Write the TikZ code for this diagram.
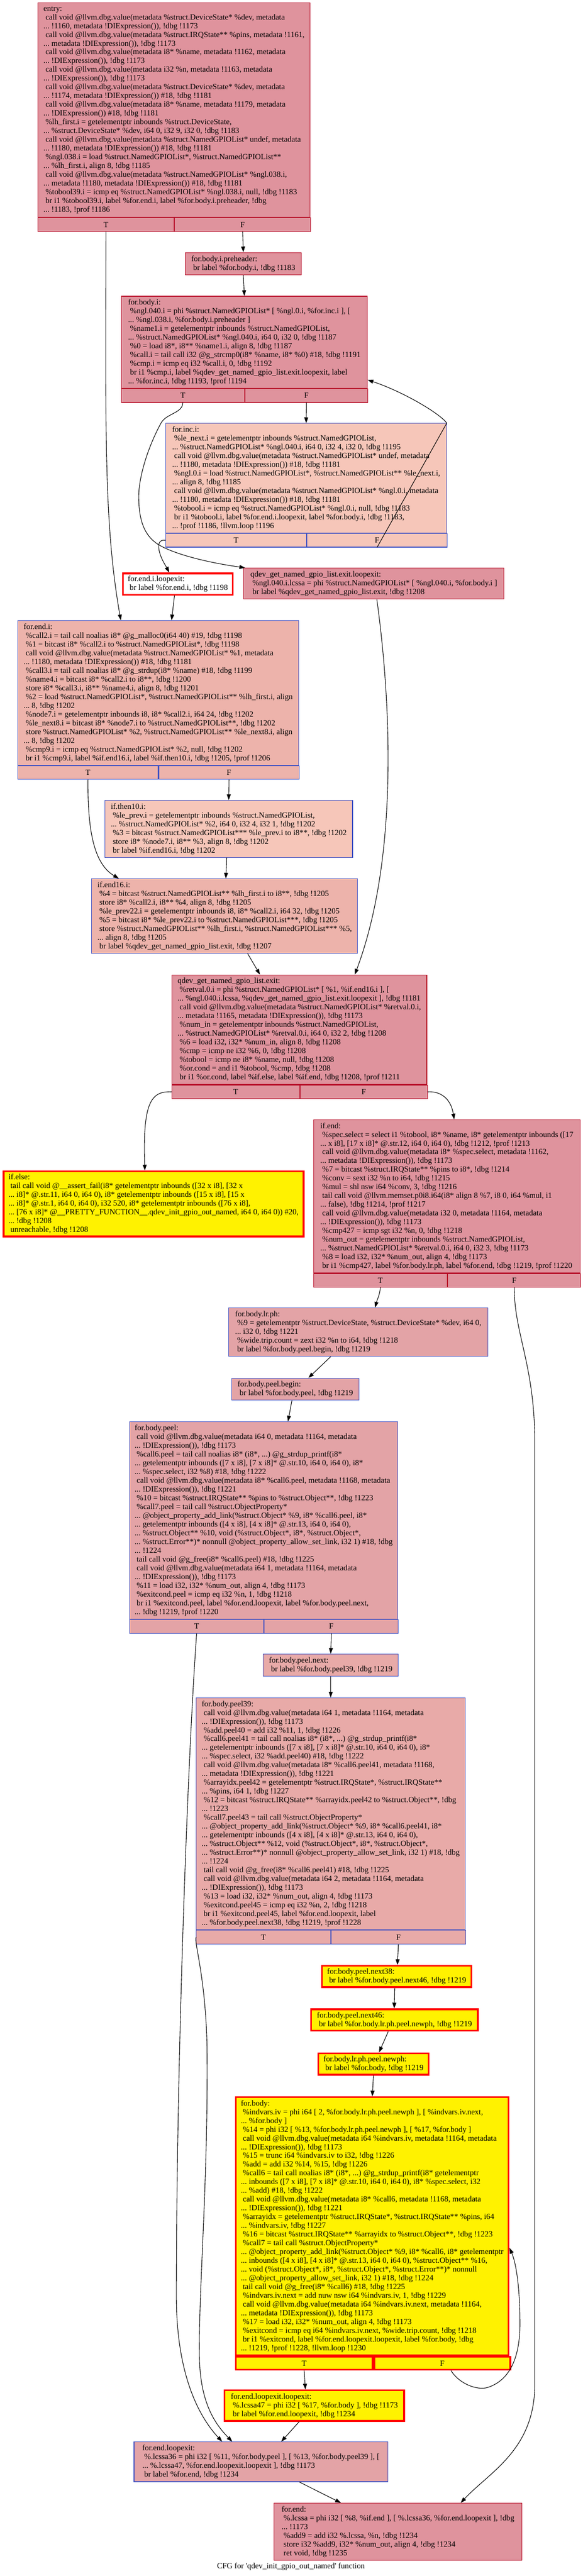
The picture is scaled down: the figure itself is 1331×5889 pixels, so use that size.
\documentclass[tikz,border=0pt]{standalone}
\usepackage{fontspec}
\setmainfont{Liberation Serif}
\usetikzlibrary{arrows.meta}
\definecolor{hotline}{RGB}{183,13,40}
\definecolor{coldline}{RGB}{61,80,195}
\definecolor{hotfill}{RGB}{223,147,157}
\definecolor{warmfill}{RGB}{246,198,185}
\definecolor{salmonfill}{RGB}{237,179,171}
\definecolor{rosefill}{RGB}{227,163,166}
\definecolor{peachfill}{RGB}{232,170,168}
\newcommand{\tfont}{\fontsize{18.2}{20}\selectfont\frenchspacing}
\newcommand{\ind}{\hspace*{0.25em}}

\begin{document}
\begin{tikzpicture}[x=1pt, y=-1pt, line width=1.3pt, >={Triangle[length=13pt,width=9pt]},
        blk/.style={draw, anchor=north west, align=left, inner sep=2pt, font=\tfont},
        hot/.style={blk, draw=hotline, fill=hotfill},
        cold/.style={blk, draw=coldline},
        hilite/.style={blk, draw=red, line width=4pt, fill=yellow},
        cell/.style={align=center, minimum height=31pt}]
        \useasboundingbox (0,0) rectangle (1331,5889);

        \node[hot, minimum width=622pt, minimum height=490pt] (entry) at (86,6) {entry:\\
\ind call void @llvm.dbg.value(metadata \%struct.DeviceState* \%dev, metadata\\
... !1160, metadata !DIExpression()), !dbg !1173\\
\ind call void @llvm.dbg.value(metadata \%struct.IRQState** \%pins, metadata !1161,\\
... metadata !DIExpression()), !dbg !1173\\
\ind call void @llvm.dbg.value(metadata i8* \%name, metadata !1162, metadata\\
... !DIExpression()), !dbg !1173\\
\ind call void @llvm.dbg.value(metadata i32 \%n, metadata !1163, metadata\\
... !DIExpression()), !dbg !1173\\
\ind call void @llvm.dbg.value(metadata \%struct.DeviceState* \%dev, metadata\\
... !1174, metadata !DIExpression()) \#18, !dbg !1181\\
\ind call void @llvm.dbg.value(metadata i8* \%name, metadata !1179, metadata\\
... !DIExpression()) \#18, !dbg !1181\\
\ind \%lh\_first.i = getelementptr inbounds \%struct.DeviceState,\\
... \%struct.DeviceState* \%dev, i64 0, i32 9, i32 0, !dbg !1183\\
\ind call void @llvm.dbg.value(metadata \%struct.NamedGPIOList* undef, metadata\\
... !1180, metadata !DIExpression()) \#18, !dbg !1181\\
\ind \%ngl.038.i = load \%struct.NamedGPIOList*, \%struct.NamedGPIOList**\\
... \%lh\_first.i, align 8, !dbg !1185\\
\ind call void @llvm.dbg.value(metadata \%struct.NamedGPIOList* \%ngl.038.i,\\
... metadata !1180, metadata !DIExpression()) \#18, !dbg !1181\\
\ind \%tobool39.i = icmp eq \%struct.NamedGPIOList* \%ngl.038.i, null, !dbg !1183\\
\ind br i1 \%tobool39.i, label \%for.end.i, label \%for.body.i.preheader, !dbg\\
... !1183, !prof !1186};
        \node[hot, cell, minimum width=311pt] (entryT) at (entry.south west) {T};
        \node[hot, cell, minimum width=311pt] (entryF) at (entryT.north east) {F};

        \node[hot, minimum width=265pt, minimum height=51pt] (preheader) at (422.7,576.6) {for.body.i.preheader:\\
\ind br label \%for.body.i, !dbg !1183};

        \node[hot, minimum width=562pt, minimum height=210.3pt] (forbodyi) at (276.7,676.6) {for.body.i:\\
\ind \%ngl.040.i = phi \%struct.NamedGPIOList* [ \%ngl.0.i, \%for.inc.i ], [\\
... \%ngl.038.i, \%for.body.i.preheader ]\\
\ind \%name1.i = getelementptr inbounds \%struct.NamedGPIOList,\\
... \%struct.NamedGPIOList* \%ngl.040.i, i64 0, i32 0, !dbg !1187\\
\ind \%0 = load i8*, i8** \%name1.i, align 8, !dbg !1187\\
\ind \%call.i = tail call i32 @g\_strcmp0(i8* \%name, i8* \%0) \#18, !dbg !1191\\
\ind \%cmp.i = icmp eq i32 \%call.i, 0, !dbg !1192\\
\ind br i1 \%cmp.i, label \%qdev\_get\_named\_gpio\_list.exit.loopexit, label\\
... \%for.inc.i, !dbg !1193, !prof !1194};
        \node[hot, cell, minimum width=281pt] (forbodyiT) at (forbodyi.south west) {T};
        \node[hot, cell, minimum width=281pt] (forbodyiF) at (forbodyiT.north east) {F};

        \node[cold, fill=warmfill, minimum width=641.2pt, minimum height=250.6pt] (forinci) at (378.3,967.3) {for.inc.i:\\
\ind \%le\_next.i = getelementptr inbounds \%struct.NamedGPIOList,\\
... \%struct.NamedGPIOList* \%ngl.040.i, i64 0, i32 4, i32 0, !dbg !1195\\
\ind call void @llvm.dbg.value(metadata \%struct.NamedGPIOList* undef, metadata\\
... !1180, metadata !DIExpression()) \#18, !dbg !1181\\
\ind \%ngl.0.i = load \%struct.NamedGPIOList*, \%struct.NamedGPIOList** \%le\_next.i,\\
... align 8, !dbg !1185\\
\ind call void @llvm.dbg.value(metadata \%struct.NamedGPIOList* \%ngl.0.i, metadata\\
... !1180, metadata !DIExpression()) \#18, !dbg !1181\\
\ind \%tobool.i = icmp eq \%struct.NamedGPIOList* \%ngl.0.i, null, !dbg !1183\\
\ind br i1 \%tobool.i, label \%for.end.i.loopexit, label \%for.body.i, !dbg !1183,\\
... !prof !1186, !llvm.loop !1196};
        \node[cold, fill=warmfill, cell, minimum width=321.2pt] (forinciT) at (forinci.south west) {T};
        \node[cold, fill=warmfill, cell, minimum width=320pt] (forinciF) at (forinciT.north east) {F};

        \node[hilite, fill=white, minimum width=251.3pt, minimum height=48.7pt] (forendiloopexit) at (278.7,1308.8) {for.end.i.loopexit:\\
\ind br label \%for.end.i, !dbg !1198};

        \node[hot, minimum width=595pt, minimum height=70.9pt] (qdevloopexit) at (556,1297.9) {qdev\_get\_named\_gpio\_list.exit.loopexit:\\
\ind \%ngl.040.i.lcssa = phi \%struct.NamedGPIOList* [ \%ngl.040.i, \%for.body.i ]\\
\ind br label \%qdev\_get\_named\_gpio\_list.exit, !dbg !1208};

        \node[cold, fill=salmonfill, minimum width=641.7pt, minimum height=330.7pt] (forendi) at (40,1418) {for.end.i:\\
\ind \%call2.i = tail call noalias i8* @g\_malloc0(i64 40) \#19, !dbg !1198\\
\ind \%1 = bitcast i8* \%call2.i to \%struct.NamedGPIOList*, !dbg !1198\\
\ind call void @llvm.dbg.value(metadata \%struct.NamedGPIOList* \%1, metadata\\
... !1180, metadata !DIExpression()) \#18, !dbg !1181\\
\ind \%call3.i = tail call noalias i8* @g\_strdup(i8* \%name) \#18, !dbg !1199\\
\ind \%name4.i = bitcast i8* \%call2.i to i8**, !dbg !1200\\
\ind store i8* \%call3.i, i8** \%name4.i, align 8, !dbg !1201\\
\ind \%2 = load \%struct.NamedGPIOList*, \%struct.NamedGPIOList** \%lh\_first.i, align\\
... 8, !dbg !1202\\
\ind \%node7.i = getelementptr inbounds i8, i8* \%call2.i, i64 24, !dbg !1202\\
\ind \%le\_next8.i = bitcast i8* \%node7.i to \%struct.NamedGPIOList**, !dbg !1202\\
\ind store \%struct.NamedGPIOList* \%2, \%struct.NamedGPIOList** \%le\_next8.i, align\\
... 8, !dbg !1202\\
\ind \%cmp9.i = icmp eq \%struct.NamedGPIOList* \%2, null, !dbg !1202\\
\ind br i1 \%cmp9.i, label \%if.end16.i, label \%if.then10.i, !dbg !1205, !prof !1206};
        \node[cold, fill=salmonfill, cell, minimum width=320.8pt] (forendiT) at (forendi.south west) {T};
        \node[cold, fill=salmonfill, cell, minimum width=320.9pt] (forendiF) at (forendiT.north east) {F};

        \node[cold, fill=warmfill, minimum width=566pt, minimum height=130.3pt] (ifthen10i) at (239,1829) {if.then10.i:\\
\ind \%le\_prev.i = getelementptr inbounds \%struct.NamedGPIOList,\\
... \%struct.NamedGPIOList* \%2, i64 0, i32 4, i32 1, !dbg !1202\\
\ind \%3 = bitcast \%struct.NamedGPIOList*** \%le\_prev.i to i8**, !dbg !1202\\
\ind store i8* \%node7.i, i8** \%3, align 8, !dbg !1202\\
\ind br label \%if.end16.i, !dbg !1202};

        \node[cold, fill=salmonfill, minimum width=607.8pt, minimum height=170.5pt] (ifend16i) at (208.8,2008.4) {if.end16.i:\\
\ind \%4 = bitcast \%struct.NamedGPIOList** \%lh\_first.i to i8**, !dbg !1205\\
\ind store i8* \%call2.i, i8** \%4, align 8, !dbg !1205\\
\ind \%le\_prev22.i = getelementptr inbounds i8, i8* \%call2.i, i64 32, !dbg !1205\\
\ind \%5 = bitcast i8* \%le\_prev22.i to \%struct.NamedGPIOList***, !dbg !1205\\
\ind store \%struct.NamedGPIOList** \%lh\_first.i, \%struct.NamedGPIOList*** \%5,\\
... align 8, !dbg !1205\\
\ind br label \%qdev\_get\_named\_gpio\_list.exit, !dbg !1207};

        \node[hot, minimum width=582.5pt, minimum height=250.6pt] (qdevexit) at (392,2228) {qdev\_get\_named\_gpio\_list.exit:\\
\ind \%retval.0.i = phi \%struct.NamedGPIOList* [ \%1, \%if.end16.i ], [\\
... \%ngl.040.i.lcssa, \%qdev\_get\_named\_gpio\_list.exit.loopexit ], !dbg !1181\\
\ind call void @llvm.dbg.value(metadata \%struct.NamedGPIOList* \%retval.0.i,\\
... metadata !1165, metadata !DIExpression()), !dbg !1173\\
\ind \%num\_in = getelementptr inbounds \%struct.NamedGPIOList,\\
... \%struct.NamedGPIOList* \%retval.0.i, i64 0, i32 2, !dbg !1208\\
\ind \%6 = load i32, i32* \%num\_in, align 8, !dbg !1208\\
\ind \%cmp = icmp ne i32 \%6, 0, !dbg !1208\\
\ind \%tobool = icmp ne i8* \%name, null, !dbg !1208\\
\ind \%or.cond = and i1 \%tobool, \%cmp, !dbg !1208\\
\ind br i1 \%or.cond, label \%if.else, label \%if.end, !dbg !1208, !prof !1211};
        \node[hot, cell, minimum width=292pt] (qdevexitT) at (qdevexit.south west) {T};
        \node[hot, cell, minimum width=290.5pt] (qdevexitF) at (qdevexitT.north east) {F};

        \node[hilite, minimum width=685.3pt, minimum height=149.1pt] (ifelse) at (6.2,2675.7) {if.else:\\
\ind tail call void @\_\_assert\_fail(i8* getelementptr inbounds ([32 x i8], [32 x\\
... i8]* @.str.11, i64 0, i64 0), i8* getelementptr inbounds ([15 x i8], [15 x\\
... i8]* @.str.1, i64 0, i64 0), i32 520, i8* getelementptr inbounds ([76 x i8],\\
... [76 x i8]* @\_\_PRETTY\_FUNCTION\_\_.qdev\_init\_gpio\_out\_named, i64 0, i64 0)) \#20,\\
... !dbg !1208\\
\ind unreachable, !dbg !1208};

        \node[hot, minimum width=609.4pt, minimum height=350.6pt] (ifend) at (715.6,2559) {if.end:\\
\ind \%spec.select = select i1 \%tobool, i8* \%name, i8* getelementptr inbounds ([17\\
... x i8], [17 x i8]* @.str.12, i64 0, i64 0), !dbg !1212, !prof !1213\\
\ind call void @llvm.dbg.value(metadata i8* \%spec.select, metadata !1162,\\
... metadata !DIExpression()), !dbg !1173\\
\ind \%7 = bitcast \%struct.IRQState** \%pins to i8*, !dbg !1214\\
\ind \%conv = sext i32 \%n to i64, !dbg !1215\\
\ind \%mul = shl nsw i64 \%conv, 3, !dbg !1216\\
\ind tail call void @llvm.memset.p0i8.i64(i8* align 8 \%7, i8 0, i64 \%mul, i1\\
... false), !dbg !1214, !prof !1217\\
\ind call void @llvm.dbg.value(metadata i32 0, metadata !1164, metadata\\
... !DIExpression()), !dbg !1173\\
\ind \%cmp427 = icmp sgt i32 \%n, 0, !dbg !1218\\
\ind \%num\_out = getelementptr inbounds \%struct.NamedGPIOList,\\
... \%struct.NamedGPIOList* \%retval.0.i, i64 0, i32 3, !dbg !1173\\
\ind \%8 = load i32, i32* \%num\_out, align 4, !dbg !1173\\
\ind br i1 \%cmp427, label \%for.body.lr.ph, label \%for.end, !dbg !1219, !prof !1220};
        \node[hot, cell, minimum width=305.4pt] (ifendT) at (ifend.south west) {T};
        \node[hot, cell, minimum width=304pt] (ifendF) at (ifendT.north east) {F};

        \node[cold, fill=rosefill, minimum width=591.8pt, minimum height=111pt] (forbodylrph) at (522,2989.3) {for.body.lr.ph:\\
\ind \%9 = getelementptr \%struct.DeviceState, \%struct.DeviceState* \%dev, i64 0,\\
... i32 0, !dbg !1221\\
\ind \%wide.trip.count = zext i32 \%n to i64, !dbg !1218\\
\ind br label \%for.body.peel.begin, !dbg !1219};

        \node[cold, fill=rosefill, minimum width=290.3pt, minimum height=50.4pt] (peelbegin) at (528.9,3150) {for.body.peel.begin:\\
\ind br label \%for.body.peel, !dbg !1219};

        \node[cold, fill=rosefill, minimum width=612.9pt, minimum height=451.2pt] (peel) at (295.4,3249.5) {for.body.peel:\\
\ind call void @llvm.dbg.value(metadata i64 0, metadata !1164, metadata\\
... !DIExpression()), !dbg !1173\\
\ind \%call6.peel = tail call noalias i8* (i8*, ...) @g\_strdup\_printf(i8*\\
... getelementptr inbounds ([7 x i8], [7 x i8]* @.str.10, i64 0, i64 0), i8*\\
... \%spec.select, i32 \%8) \#18, !dbg !1222\\
\ind call void @llvm.dbg.value(metadata i8* \%call6.peel, metadata !1168, metadata\\
... !DIExpression()), !dbg !1221\\
\ind \%10 = bitcast \%struct.IRQState** \%pins to \%struct.Object**, !dbg !1223\\
\ind \%call7.peel = tail call \%struct.ObjectProperty*\\
... @object\_property\_add\_link(\%struct.Object* \%9, i8* \%call6.peel, i8*\\
... getelementptr inbounds ([4 x i8], [4 x i8]* @.str.13, i64 0, i64 0),\\
... \%struct.Object** \%10, void (\%struct.Object*, i8*, \%struct.Object*,\\
... \%struct.Error**)* nonnull @object\_property\_allow\_set\_link, i32 1) \#18, !dbg\\
... !1224\\
\ind tail call void @g\_free(i8* \%call6.peel) \#18, !dbg !1225\\
\ind call void @llvm.dbg.value(metadata i64 1, metadata !1164, metadata\\
... !DIExpression()), !dbg !1173\\
\ind \%11 = load i32, i32* \%num\_out, align 4, !dbg !1173\\
\ind \%exitcond.peel = icmp eq i32 \%n, 1, !dbg !1218\\
\ind br i1 \%exitcond.peel, label \%for.end.loopexit, label \%for.body.peel.next,\\
... !dbg !1219, !prof !1220};
        \node[cold, fill=rosefill, cell, minimum width=306.5pt] (peelT) at (peel.south west) {T};
        \node[cold, fill=rosefill, cell, minimum width=306.4pt] (peelF) at (peelT.north east) {F};

        \node[cold, fill=peachfill, minimum width=308pt, minimum height=50.4pt] (peelnext) at (601,3780.6) {for.body.peel.next:\\
\ind br label \%for.body.peel39, !dbg !1219};

        \node[cold, fill=peachfill, minimum width=614pt, minimum height=530.4pt] (peel39) at (448,3880.6) {for.body.peel39:\\
\ind call void @llvm.dbg.value(metadata i64 1, metadata !1164, metadata\\
... !DIExpression()), !dbg !1173\\
\ind \%add.peel40 = add i32 \%11, 1, !dbg !1226\\
\ind \%call6.peel41 = tail call noalias i8* (i8*, ...) @g\_strdup\_printf(i8*\\
... getelementptr inbounds ([7 x i8], [7 x i8]* @.str.10, i64 0, i64 0), i8*\\
... \%spec.select, i32 \%add.peel40) \#18, !dbg !1222\\
\ind call void @llvm.dbg.value(metadata i8* \%call6.peel41, metadata !1168,\\
... metadata !DIExpression()), !dbg !1221\\
\ind \%arrayidx.peel42 = getelementptr \%struct.IRQState*, \%struct.IRQState**\\
... \%pins, i64 1, !dbg !1227\\
\ind \%12 = bitcast \%struct.IRQState** \%arrayidx.peel42 to \%struct.Object**, !dbg\\
... !1223\\
\ind \%call7.peel43 = tail call \%struct.ObjectProperty*\\
... @object\_property\_add\_link(\%struct.Object* \%9, i8* \%call6.peel41, i8*\\
... getelementptr inbounds ([4 x i8], [4 x i8]* @.str.13, i64 0, i64 0),\\
... \%struct.Object** \%12, void (\%struct.Object*, i8*, \%struct.Object*,\\
... \%struct.Error**)* nonnull @object\_property\_allow\_set\_link, i32 1) \#18, !dbg\\
... !1224\\
\ind tail call void @g\_free(i8* \%call6.peel41) \#18, !dbg !1225\\
\ind call void @llvm.dbg.value(metadata i64 2, metadata !1164, metadata\\
... !DIExpression()), !dbg !1173\\
\ind \%13 = load i32, i32* \%num\_out, align 4, !dbg !1173\\
\ind \%exitcond.peel45 = icmp eq i32 \%n, 2, !dbg !1218\\
\ind br i1 \%exitcond.peel45, label \%for.end.loopexit, label\\
... \%for.body.peel.next38, !dbg !1219, !prof !1228};
        \node[cold, fill=peachfill, cell, minimum width=306.7pt] (peel39T) at (peel39.south west) {T};
        \node[cold, fill=peachfill, cell, minimum width=307.3pt] (peel39F) at (peel39T.north east) {F};

        \node[hilite, minimum width=341.3pt, minimum height=48.8pt] (peelnext38) at (733.7,4492) {for.body.peel.next38:\\
\ind br label \%for.body.peel.next46, !dbg !1219};

        \node[hilite, minimum width=380.7pt, minimum height=49.1pt] (peelnext46) at (709,4591.4) {for.body.peel.next46:\\
\ind br label \%for.body.lr.ph.peel.newph, !dbg !1219};

        \node[hilite, minimum width=252.6pt, minimum height=48.8pt] (newph) at (725,4692) {for.body.lr.ph.peel.newph:\\
\ind br label \%for.body, !dbg !1219};

        \node[hilite, minimum width=623.2pt, minimum height=589.5pt] (forbody) at (536.8,4792.5) {for.body:\\
\ind \%indvars.iv = phi i64 [ 2, \%for.body.lr.ph.peel.newph ], [ \%indvars.iv.next,\\
... \%for.body ]\\
\ind \%14 = phi i32 [ \%13, \%for.body.lr.ph.peel.newph ], [ \%17, \%for.body ]\\
\ind call void @llvm.dbg.value(metadata i64 \%indvars.iv, metadata !1164, metadata\\
... !DIExpression()), !dbg !1173\\
\ind \%15 = trunc i64 \%indvars.iv to i32, !dbg !1226\\
\ind \%add = add i32 \%14, \%15, !dbg !1226\\
\ind \%call6 = tail call noalias i8* (i8*, ...) @g\_strdup\_printf(i8* getelementptr\\
... inbounds ([7 x i8], [7 x i8]* @.str.10, i64 0, i64 0), i8* \%spec.select, i32\\
... \%add) \#18, !dbg !1222\\
\ind call void @llvm.dbg.value(metadata i8* \%call6, metadata !1168, metadata\\
... !DIExpression()), !dbg !1221\\
\ind \%arrayidx = getelementptr \%struct.IRQState*, \%struct.IRQState** \%pins, i64\\
... \%indvars.iv, !dbg !1227\\
\ind \%16 = bitcast \%struct.IRQState** \%arrayidx to \%struct.Object**, !dbg !1223\\
\ind \%call7 = tail call \%struct.ObjectProperty*\\
... @object\_property\_add\_link(\%struct.Object* \%9, i8* \%call6, i8* getelementptr\\
... inbounds ([4 x i8], [4 x i8]* @.str.13, i64 0, i64 0), \%struct.Object** \%16,\\
... void (\%struct.Object*, i8*, \%struct.Object*, \%struct.Error**)* nonnull\\
... @object\_property\_allow\_set\_link, i32 1) \#18, !dbg !1224\\
\ind tail call void @g\_free(i8* \%call6) \#18, !dbg !1225\\
\ind \%indvars.iv.next = add nuw nsw i64 \%indvars.iv, 1, !dbg !1229\\
\ind call void @llvm.dbg.value(metadata i64 \%indvars.iv.next, metadata !1164,\\
... metadata !DIExpression()), !dbg !1173\\
\ind \%17 = load i32, i32* \%num\_out, align 4, !dbg !1173\\
\ind \%exitcond = icmp eq i64 \%indvars.iv.next, \%wide.trip.count, !dbg !1218\\
\ind br i1 \%exitcond, label \%for.end.loopexit.loopexit, label \%for.body, !dbg\\
... !1219, !prof !1228, !llvm.loop !1230};
        \node[hilite, cell, minimum width=312.2pt, minimum height=29.5pt] (forbodyT) at (forbody.south west) {T};
        \node[hilite, cell, minimum width=311pt, minimum height=29.5pt] (forbodyF) at (forbodyT.north east) {F};

        \node[hilite, minimum width=410.6pt, minimum height=69.9pt] (fell2) at (511,5462.5) {for.end.loopexit.loopexit:\\
\ind \%.lcssa47 = phi i32 [ \%17, \%for.body ], !dbg !1173\\
\ind br label \%for.end.loopexit, !dbg !1234};

        \node[cold, fill=rosefill, minimum width=579.8pt, minimum height=91.1pt] (forendloopexit) at (305.6,5581.7) {for.end.loopexit:\\
\ind \%.lcssa36 = phi i32 [ \%11, \%for.body.peel ], [ \%13, \%for.body.peel39 ], [\\
... \%.lcssa47, \%for.end.loopexit.loopexit ], !dbg !1173\\
\ind br label \%for.end, !dbg !1234};

        \node[hot, minimum width=566.3pt, minimum height=130.9pt] (forend) at (625.6,5721.7) {for.end:\\
\ind \%.lcssa = phi i32 [ \%8, \%if.end ], [ \%.lcssa36, \%for.end.loopexit ], !dbg\\
... !1173\\
\ind \%add9 = add i32 \%.lcssa, \%n, !dbg !1234\\
\ind store i32 \%add9, i32* \%num\_out, align 4, !dbg !1234\\
\ind ret void, !dbg !1235};

        \node[font=\tfont] (caption) at (664.7,5867.8) {CFG for \textquotesingle qdev\_init\_gpio\_out\_named\textquotesingle\ function};

        \draw[->] (entryT.south) .. controls (241,1000) and (238,1200) .. ([xshift=236]forendi.north west);
        \draw[->] (entryF.south) -- (preheader.north);
        \draw[->] (preheader.south) -- (forbodyi.north);
        \draw[->] (forbodyiT.south) .. controls (417,945) and (380,945) .. (368,967) .. controls (338,1022) and (317,1090) .. (317,1135) .. controls (317,1190) and (330,1225) .. (362,1245) .. controls (400,1268) and (480,1287) .. ([xshift=4]qdevloopexit.north west);
        \draw[->] (forbodyiF.south) -- (forinci.north);
        \draw[->] (forinciF.south) -- (forinci.north east) .. controls (1005,945) and (920,895) .. (forbodyi.-17.6);
        \draw[->] (forinciT.west) .. controls (365,1233) and (361,1242) .. (363,1255) .. controls (366,1275) and (378,1292) .. ([xshift=108]forendiloopexit.north west);
        \draw[->] ([xshift=120]forendiloopexit.south west) -- ([xshift=352]forendi.north west);
        \draw[->] ([xshift=305]qdevloopexit.south west) .. controls (890,1580) and (915,1950) .. ([xshift=418.7]qdevexit.north west);
        \draw[->] (forendiF.south) -- (ifthen10i.north);
        \draw[->] (forendiT.south) .. controls (200,1900) and (215,1975) .. ([xshift=62.8]ifend16i.north west);
        \draw[->] ([xshift=279]ifthen10i.south west) -- ([xshift=307.2]ifend16i.north west);
        \draw[->] ([xshift=357.2]ifend16i.south west) -- ([xshift=202]qdevexit.north west);
        \draw[->] (qdevexitT.west) .. controls (345,2494) and (326,2520) .. ([xshift=324.8]ifelse.north west);
        \draw[->] (qdevexitF.east) .. controls (1005,2494) and (1030,2510) .. ([xshift=322.1]ifend.north west);
        \draw[->] (ifendT.south) .. controls (868,2960) and (862,2970) .. ([xshift=335]forbodylrph.north west);
        \draw[->] (ifendF.south) .. controls (1175,3050) and (1222,3120) .. (1222,3300) -- (1222,5450) .. controls (1222,5600) and (1120,5650) .. ([xshift=427]forend.north west);
        \draw[->] ([xshift=233.5]forbodylrph.south west) -- ([xshift=175.7]peelbegin.north west);
        \draw[->] ([xshift=138.1]peelbegin.south west) -- ([xshift=362.6]peel.north west);
        \draw[->] (peelT.south) .. controls (430,4000) and (403,4700) .. (403,5250) .. controls (403,5420) and (450,5520) .. ([xshift=202]forendloopexit.north west);
        \draw[->] (peelF.south) -- (peelnext.north);
        \draw[->] (peelnext.south) -- (peel39.north);
        \draw[->] (peel39T.west) .. controls (443,4440) and (470,4520) .. (473,4680) .. controls (476,5000) and (452,5250) .. (456,5400) .. controls (460,5500) and (495,5545) .. ([xshift=225]forendloopexit.north west);
        \draw[->] (peel39F.south) -- ([xshift=174.3]peelnext38.north west);
        \draw[->] ([xshift=168.3]peelnext38.south west) -- ([xshift=191.7]peelnext46.north west);
        \draw[->] ([xshift=178]peelnext46.south west) -- ([xshift=141]newph.north west);
        \draw[->] (newph.south) -- ([xshift=313.8]forbody.north west);
        \draw[->] (forbodyT.south) -- ([xshift=186.8]fell2.north west);
        \draw[->] ([xshift=20]forbodyF.south) .. controls (1050,5450) and (1090,5465) .. (1114,5458) .. controls (1170,5440) and (1190,5380) .. (1188,5300) .. controls (1187,5220) and (1178,5170) .. (forbody.-9.4);
        \draw[->] ([xshift=172.4]fell2.south west) -- ([xshift=337]forendloopexit.north west);
        \draw[->] ([xshift=378.4]forendloopexit.south west) -- ([xshift=153.4]forend.north west);
    \end{tikzpicture}
\end{document}
